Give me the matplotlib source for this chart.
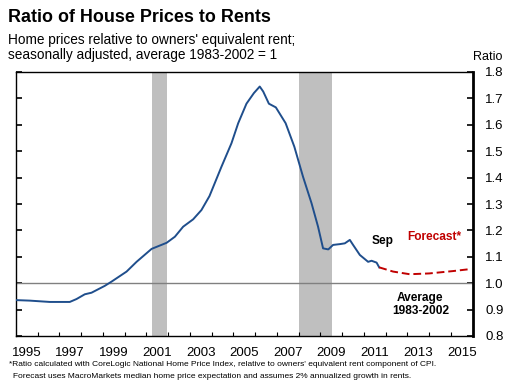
import numpy as np
import matplotlib
matplotlib.use("Agg")
import matplotlib.pyplot as plt

plt.rcParams['font.family'] = ['Liberation Sans', 'DejaVu Sans']

# ratio of house prices to rents (decimal years)
years = [1995.0, 1995.64, 1996.56, 1997.48, 1997.79, 1998.17, 1998.48, 1999.09, 1999.4,
         2000.09, 2000.55, 2001.24, 2001.93, 2002.31, 2002.69, 2003.15, 2003.53, 2003.9,
         2004.45, 2004.91, 2005.22, 2005.6, 2005.94, 2006.21, 2006.37, 2006.63, 2006.95,
         2007.4, 2007.8, 2008.2, 2008.59, 2008.89, 2009.12, 2009.36, 2009.58, 2009.89,
         2010.12, 2010.35, 2010.5, 2010.81, 2011.19, 2011.35, 2011.58, 2011.7]
ratio = [0.936, 0.934, 0.929, 0.929, 0.94, 0.958, 0.964, 0.99, 1.006,
         1.044, 1.081, 1.13, 1.153, 1.176, 1.214, 1.242, 1.277, 1.33,
         1.441, 1.53, 1.606, 1.68, 1.72, 1.745, 1.726, 1.68, 1.666,
         1.606, 1.517, 1.403, 1.303, 1.214, 1.132, 1.128, 1.145, 1.148,
         1.151, 1.164, 1.145, 1.107, 1.081, 1.085, 1.078, 1.06]

fc_years = [2011.7, 2012.34, 2013.1, 2014.0, 2015.1, 2015.94]
fc_ratio = [1.06, 1.044, 1.034, 1.037, 1.046, 1.054]

recessions = [(2001.25, 2001.95), (2008.0, 2009.55)]

fig = plt.figure(figsize=(5.1, 3.84), dpi=100)
ax = fig.add_axes([0.031, 0.125, 0.896, 0.6875])

for a, b in recessions:
    ax.axvspan(a, b, color='#bfbfbf', lw=0, zorder=1)
ax.axhline(1.0, color='#808080', lw=1.0, zorder=2)
ax.plot(years, ratio, color='#1f4e8c', lw=1.4, zorder=3)
ax.plot(fc_years, fc_ratio, color='#c00000', lw=1.4, ls=(0, (4, 2)), zorder=3)

ax.set_xlim(1995, 2016)
ax.set_ylim(0.8, 1.8)

# year boundary ticks, labels at mid-year
ax.set_xticks(np.arange(1996, 2016))
ax.set_xticklabels([])
ax.set_xticks(np.arange(1995, 2016, 2) + 0.5, minor=True)
ax.set_xticklabels([str(y) for y in range(1995, 2016, 2)], minor=True)
ax.tick_params(axis='x', which='major', direction='in', length=3, width=0.8)
ax.tick_params(axis='x', which='minor', length=0, pad=8, labelsize=9.5)

yt = np.round(np.arange(0.8, 1.81, 0.1), 1)
ax.set_yticks(yt)
ax.set_yticklabels(['%.1f' % v for v in yt])
ax.yaxis.tick_right()
ax.tick_params(axis='y', direction='in', length=4, width=1.2, pad=9, labelsize=9.5,
               left=True)

for s in ['left', 'top', 'bottom']:
    ax.spines[s].set_linewidth(1.0)
ax.spines['right'].set_linewidth(2.0)

fig.text(8 / 510, 1 - 17 / 384, 'Ratio of House Prices to Rents', fontsize=12.9,
         fontweight='bold', va='center', ha='left')
fig.text(8 / 510, 1 - 40 / 384, "Home prices relative to owners' equivalent rent;",
         fontsize=9.8, va='center', ha='left')
fig.text(8 / 510, 1 - 55 / 384, "seasonally adjusted, average 1983-2002 = 1",
         fontsize=9.8, va='center', ha='left')
fig.text(488 / 510, 1 - 57 / 384, 'Ratio', fontsize=9.0, va='center', ha='center')

ax.text(2011.84, 1.16, 'Sep', fontsize=8.6, fontweight='bold', ha='center', va='center')
ax.text(2012.97, 1.175, 'Forecast*', fontsize=8.6, fontweight='bold', color='#c00000',
        ha='left', va='center')
ax.text(2013.59, 0.92, 'Average\n1983-2002', fontsize=8.6, fontweight='bold',
        ha='center', va='center', linespacing=1.1)

fig.text(9 / 510, 1 - 364 / 384,
         "*Ratio calculated with CoreLogic National Home Price Index, relative to owners' "
         "equivalent rent component of CPI.", fontsize=6.0, va='center', ha='left')
fig.text(13 / 510, 1 - 377 / 384,
         "Forecast uses MacroMarkets median home price expectation and assumes 2% "
         "annualized growth in rents.", fontsize=6.0, va='center', ha='left')

fig.savefig('out.png', dpi=100)
